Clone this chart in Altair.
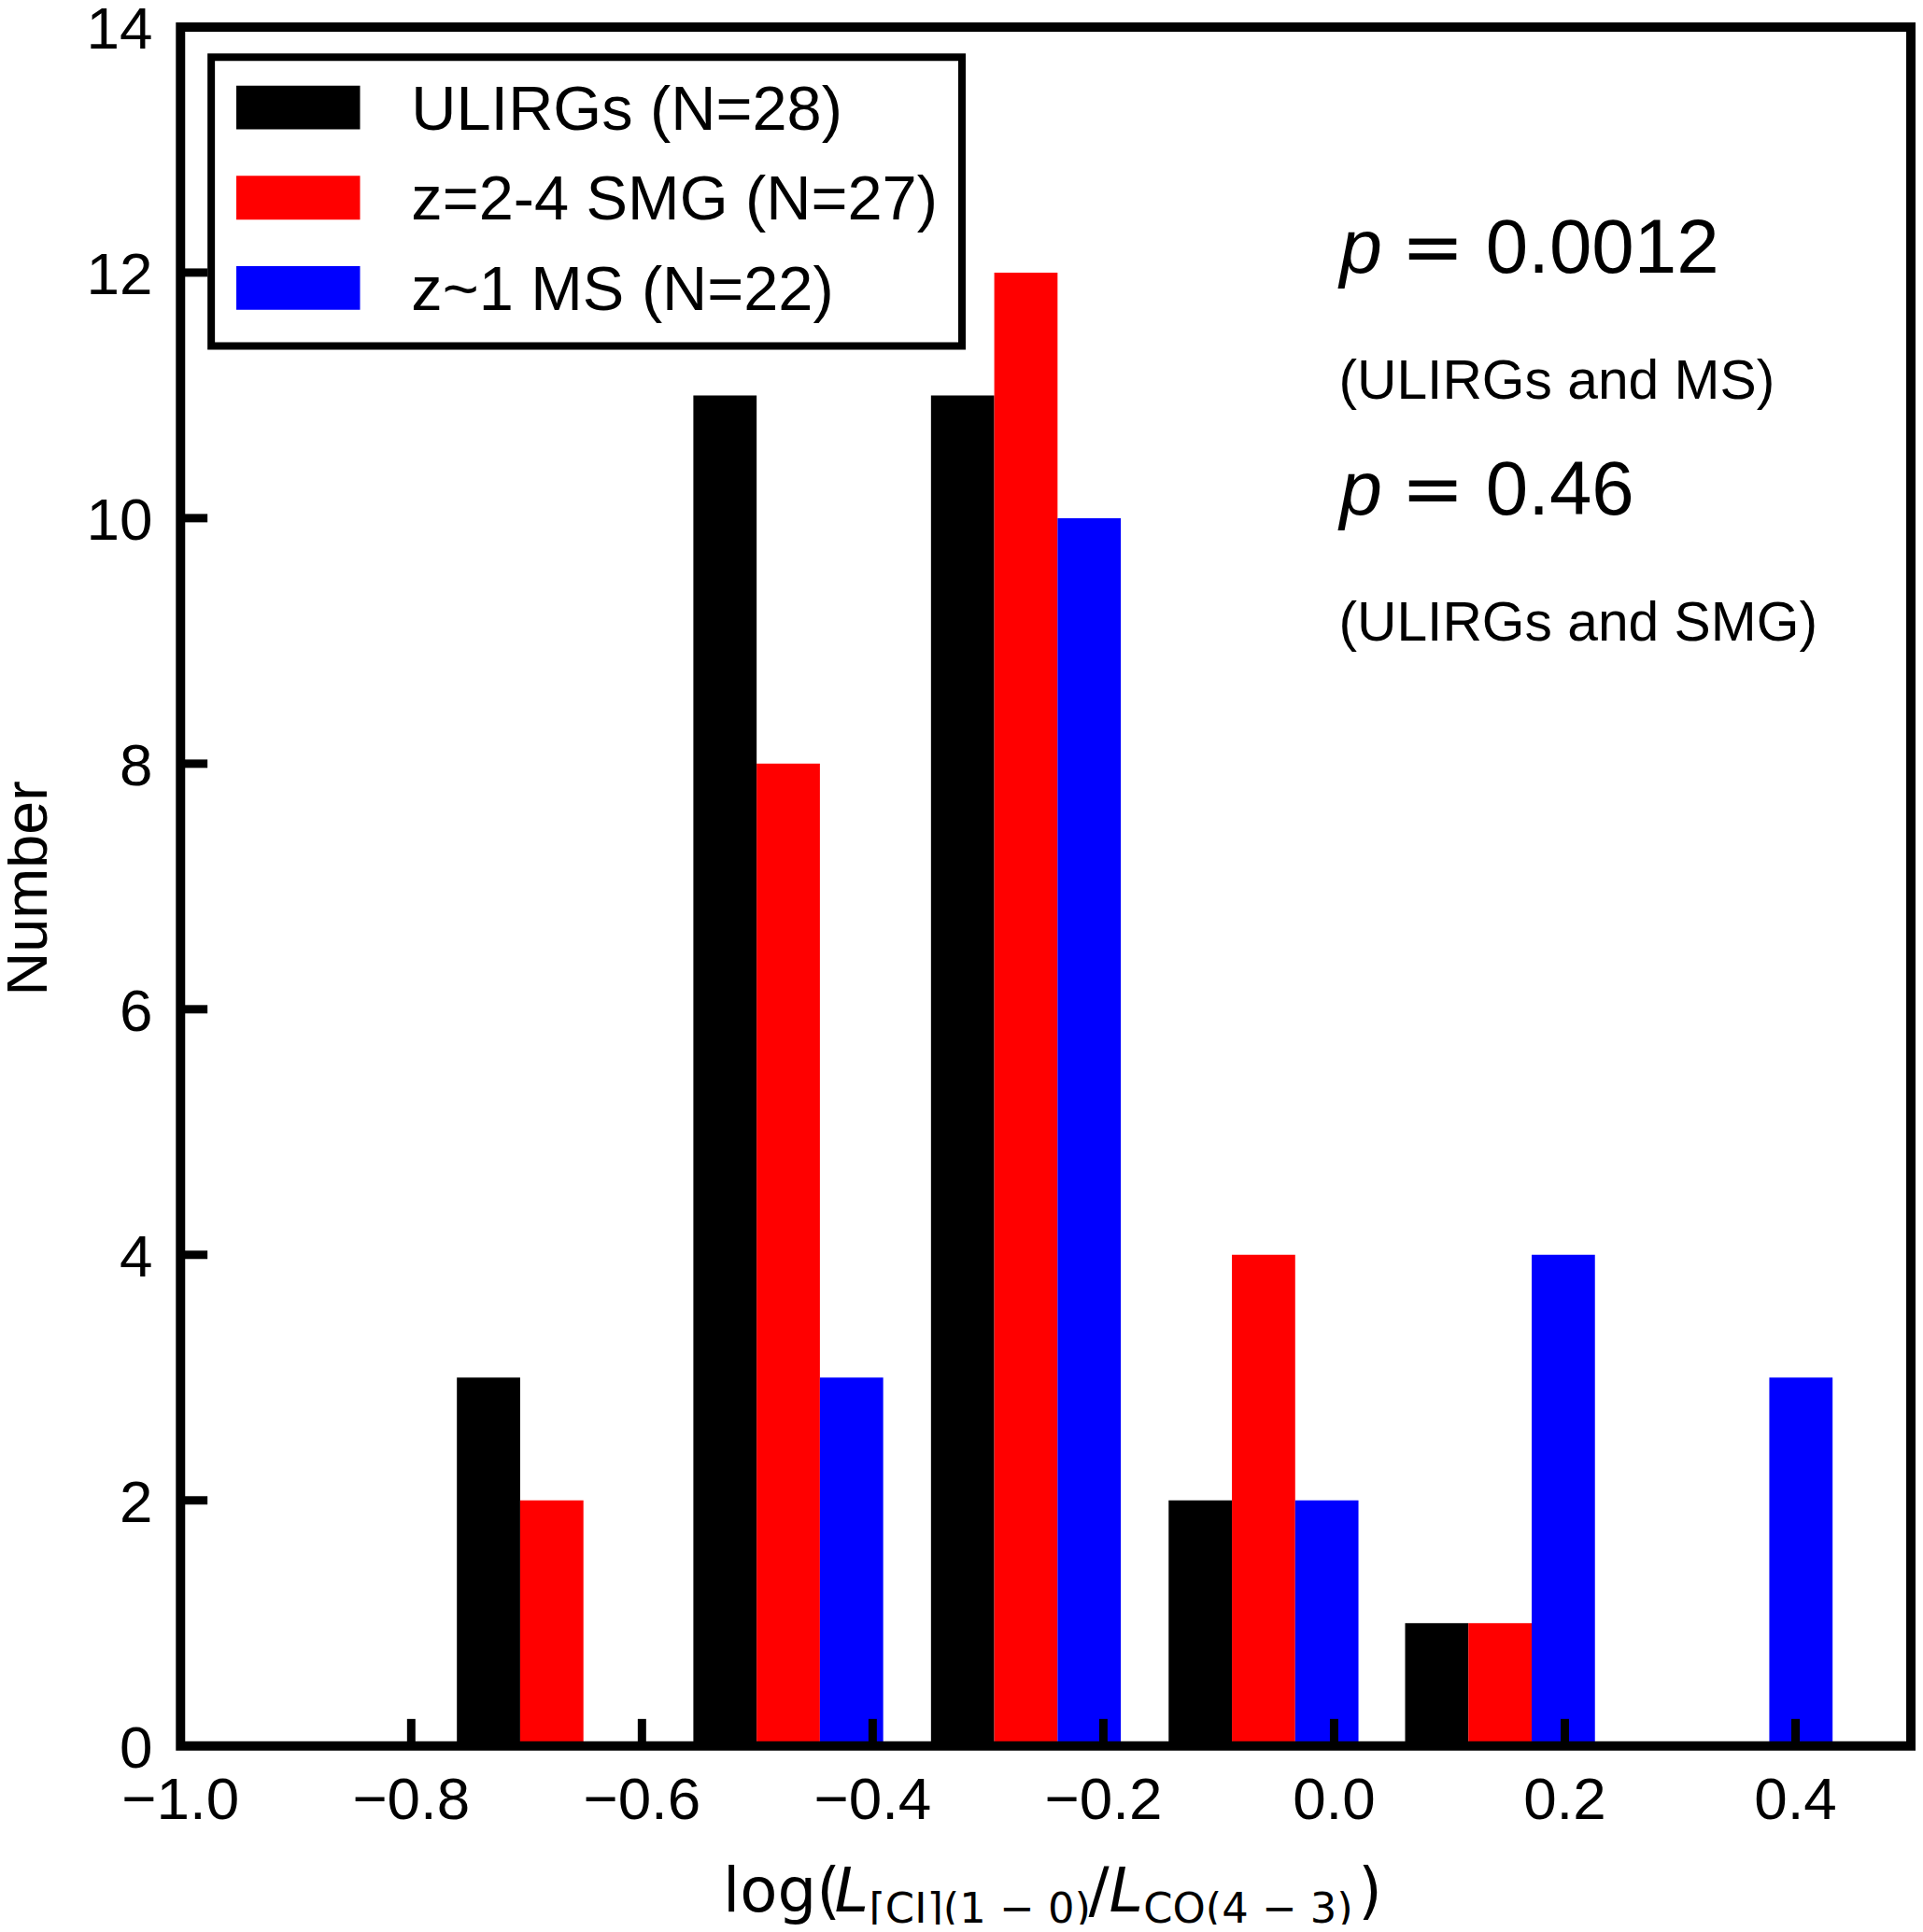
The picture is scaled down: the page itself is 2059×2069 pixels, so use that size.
import altair as alt
import pandas as pd

# ---------------- data ----------------
series_names = ["ULIRGs (N=28)", "z=2-4 SMG (N=27)", "z~1 MS (N=22)"]
series_colors = ["#000000", "#ff0000", "#0000ff"]
bin_left = [-0.781, -0.576, -0.370, -0.164, 0.041, 0.247]
bin_width = 0.2057
counts_ulirg = [3, 11, 11, 2, 1, 0]
counts_smg = [2, 8, 12, 4, 1, 0]
counts_ms = [0, 3, 10, 2, 4, 3]

x_tick_values = [-1.0, -0.8, -0.6, -0.4, -0.2, 0.0, 0.2, 0.4]
x_tick_labels = ["\u22121.0", "\u22120.8", "\u22120.6", "\u22120.4", "\u22120.2", "0.0", "0.2", "0.4"]
y_tick_values = [0, 2, 4, 6, 8, 10, 12, 14]
y_tick_labels = ["0", "2", "4", "6", "8", "10", "12", "14"]
x_inner_ticks = [-0.8, -0.6, -0.4, -0.2, 0.0, 0.2, 0.4]
y_inner_ticks = [2, 4, 6, 8, 10, 12]

p_labels = ["0.0012", "0.46"]
p_notes = ["(ULIRGs and MS)", "(ULIRGs and SMG)"]
y_title = "Number"

# ---------------- table ----------------
bar_w = 0.8 * bin_width / 3
rows = []
for k, (name, counts) in enumerate(zip(series_names, [counts_ulirg, counts_smg, counts_ms])):
    for left, c in zip(bin_left, counts):
        if c > 0:
            x0 = left + 0.1 * bin_width + k * bar_w
            rows.append({"series": name, "x0": x0, "x1": x0 + bar_w, "n": c, "base": 0})
bars_df = pd.DataFrame(rows)

W, H = 1860, 1848
FONT = "Liberation Sans"
MATH = "DejaVu Sans"
one = pd.DataFrame({"a": [0]})

xscale = alt.Scale(domain=[-1.0, 0.5], nice=False, zero=False)
yscale = alt.Scale(domain=[0, 14], nice=False, zero=False)

bars = alt.Chart(bars_df).mark_rect().encode(
    x=alt.X("x0:Q", scale=xscale, axis=None),
    x2="x1:Q",
    y=alt.Y("n:Q", scale=yscale, axis=None),
    y2="base:Q",
    color=alt.Color("series:N", scale=alt.Scale(domain=series_names, range=series_colors),
                    legend=None),
)

xt = alt.Chart(pd.DataFrame({"v": x_inner_ticks})).mark_rule(
    color="black", strokeWidth=9).encode(
    x=alt.X("v:Q", scale=xscale, axis=None),
    y=alt.value(H - 29), y2=alt.value(H))

yt = alt.Chart(pd.DataFrame({"v": y_inner_ticks})).mark_rule(
    color="black", strokeWidth=9).encode(
    y=alt.Y("v:Q", scale=yscale, axis=None),
    x=alt.value(0), x2=alt.value(29))

xlab = alt.Chart(pd.DataFrame({"v": x_tick_values, "t": x_tick_labels})).mark_text(
    align="center", baseline="alphabetic", font=FONT, fontSize=64, color="black").encode(
    x=alt.X("v:Q", scale=xscale, axis=None),
    y=alt.value(1927), text="t:N")

ylab = alt.Chart(pd.DataFrame({"v": y_tick_values, "t": y_tick_labels})).mark_text(
    align="right", baseline="alphabetic", font=FONT, fontSize=64, color="black", dy=23).encode(
    y=alt.Y("v:Q", scale=yscale, axis=None),
    x=alt.value(-30), text="t:N")

ytitle = alt.Chart(one).mark_text(
    align="center", baseline="alphabetic", font=FONT, fontSize=65, color="black",
    angle=270).encode(x=alt.value(-144), y=alt.value(926), text=alt.value(y_title))

frame = alt.Chart(one).mark_rect(filled=False, stroke="black", strokeWidth=10).encode(
    x=alt.value(0), x2=alt.value(W), y=alt.value(0), y2=alt.value(H))

legend_box = alt.Chart(one).mark_rect(fill="white", stroke="black", strokeWidth=8).encode(
    x=alt.value(33), x2=alt.value(840), y=alt.value(32.5), y2=alt.value(343))

layers = [bars, xt, yt, xlab, ylab, ytitle, frame, legend_box]

row_top = [63, 160, 257]
for name, col, top in zip(series_names, series_colors, row_top):
    layers.append(alt.Chart(one).mark_rect(color=col).encode(
        x=alt.value(60), x2=alt.value(193), y=alt.value(top), y2=alt.value(top + 47)))
    layers.append(alt.Chart(one).mark_text(
        align="left", baseline="alphabetic", font=FONT, fontSize=67, color="black").encode(
        x=alt.value(248), y=alt.value(top + 47), text=alt.value(name)))

# p-value annotations
p_base = [264, 524]
note_base = [400, 660]
for pv, note, pb, nb in zip(p_labels, p_notes, p_base, note_base):
    layers.append(alt.Chart(one).mark_text(
        align="left", baseline="alphabetic", font=FONT, fontSize=82, fontStyle="italic",
        color="black").encode(x=alt.value(1246), y=alt.value(pb), text=alt.value("p")))
    layers.append(alt.Chart(one).mark_text(
        align="left", baseline="alphabetic", font=MATH, fontSize=81, color="black").encode(
        x=alt.value(1312), y=alt.value(pb), text=alt.value("=")))
    layers.append(alt.Chart(one).mark_text(
        align="left", baseline="alphabetic", font=FONT, fontSize=82, color="black").encode(
        x=alt.value(1403), y=alt.value(pb), text=alt.value(pv)))
    layers.append(alt.Chart(one).mark_text(
        align="left", baseline="alphabetic", font=FONT, fontSize=59, color="black").encode(
        x=alt.value(1245), y=alt.value(nb), text=alt.value(note)))

# x-axis title with subscripts: log(L_[CI](1-0) / L_CO(4-3))
title_parts = [
    ("log(", 583, 2026, 66, "normal"),
    ("L", 703, 2026, 66, "italic"),
    ("[CI](1 \u2212 0)", 740, 2038, 45, "normal"),
    ("/", 976, 2026, 66, "normal"),
    ("L", 998, 2026, 66, "italic"),
    ("CO(4 \u2212 3)", 1035, 2038, 45, "normal"),
    (")", 1266, 2026, 66, "normal"),
]
for txt, px, py, fs, st in title_parts:
    layers.append(alt.Chart(one).mark_text(
        align="left", baseline="alphabetic", font=MATH, fontSize=fs, fontStyle=st,
        color="black").encode(x=alt.value(px), y=alt.value(py), text=alt.value(txt)))

chart = alt.layer(*layers).properties(
    width=W, height=H,
    autosize=alt.AutoSizeParams(type="none"),
    padding={"left": 186, "top": 17, "right": 5, "bottom": 188},
    background="white",
).configure_view(stroke=None)

chart.save("out.html", embed_options={"renderer": "svg", "actions": False})
